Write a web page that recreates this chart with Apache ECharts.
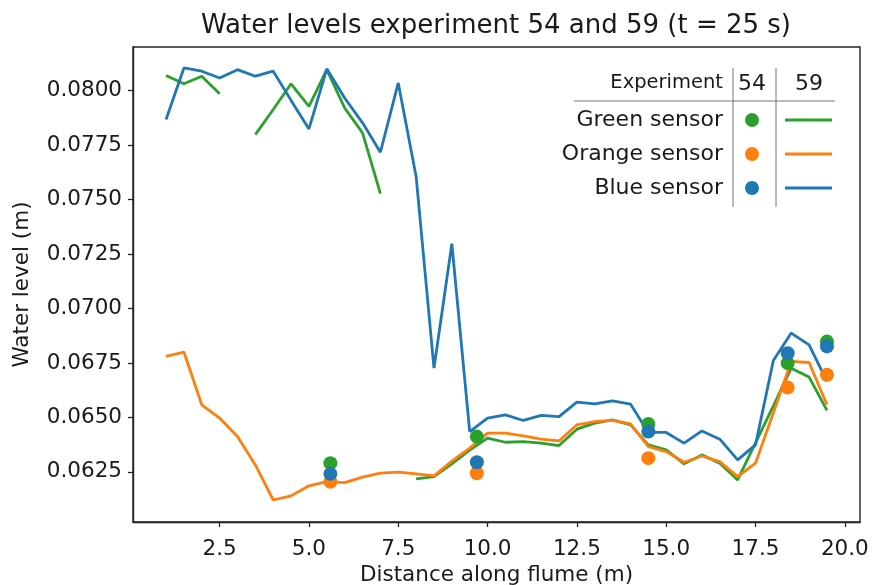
<!DOCTYPE html>
<html>
<head>
<meta charset="utf-8">
<script src="https://cdn.jsdelivr.net/npm/echarts@6/dist/echarts.min.js"></script>
<style>
  html, body { margin: 0; padding: 0; background: #fff; }
  #chart { width: 874px; height: 585px; }
</style>
</head>
<body>
<div id="chart"></div>
<script>
// Sensor positions along the flume (m) for the continuous run (experiment 59)
const distance59 = [1.0, 1.5, 2.0, 2.5, 3.0, 3.5, 4.0, 4.5, 5.0, 5.5, 6.0, 6.5, 7.0, 7.5, 8.0, 8.5, 9.0, 9.5,
  10.0, 10.5, 11.0, 11.5, 12.0, 12.5, 13.0, 13.5, 14.0, 14.5, 15.0, 15.5, 16.0, 16.5, 17.0, 17.5, 18.0, 18.5, 19.0, 19.5];

// Experiment 59 water levels (m); null = no reading
const green59 = [0.08069, 0.08031, 0.08066, 0.07985, null, 0.07798, 0.07913, 0.08031, 0.07928, 0.08096,
  0.07920, 0.07806, 0.07527, null, 0.06218, 0.06228, 0.06287, 0.06350, 0.06405, 0.06386,
  0.06389, 0.06382, 0.06371, 0.06446, 0.06474, 0.06489, 0.06466, 0.06374, 0.06351, 0.06287,
  0.06328, 0.06290, 0.06213, 0.06383, 0.06553, 0.06726, 0.06685, 0.06532];
const orange59 = [0.06780, 0.06800, 0.06558, 0.06497, 0.06412, 0.06282, 0.06121, 0.06140, 0.06186, 0.06205,
  0.06201, 0.06226, 0.06244, 0.06249, 0.06241, 0.06232, 0.06299, 0.06359, 0.06428, 0.06428,
  0.06415, 0.06400, 0.06392, 0.06466, 0.06481, 0.06486, 0.06470, 0.06366, 0.06343, 0.06294,
  0.06323, 0.06297, 0.06228, 0.06290, 0.06521, 0.06757, 0.06752, 0.06558];
const blue59 = [0.07867, 0.08104, 0.08089, 0.08058, 0.08096, 0.08066, 0.08089, 0.07955, 0.07824, 0.08100,
  0.07966, 0.07852, 0.07717, 0.08035, 0.07606, 0.06726, 0.07297, 0.06435, 0.06497, 0.06512,
  0.06486, 0.06509, 0.06504, 0.06570, 0.06562, 0.06576, 0.06561, 0.06431, 0.06431, 0.06382,
  0.06438, 0.06400, 0.06305, 0.06374, 0.06761, 0.06887, 0.06833, 0.06665];

// Experiment 54: point measurements
const distance54 = [5.6, 9.7, 14.5, 18.4, 19.5];
const green54 = [0.0629, 0.06412, 0.0647, 0.06749, 0.06848];
const orange54 = [0.06205, 0.06244, 0.06313, 0.06637, 0.06696];
const blue54 = [0.06241, 0.06294, 0.06435, 0.06795, 0.06826];

// Axis ticks
const xTicks = [2.5, 5.0, 7.5, 10.0, 12.5, 15.0, 17.5, 20.0];
const yTicks = [0.0625, 0.0650, 0.0675, 0.0700, 0.0725, 0.0750, 0.0775, 0.0800];

const COLORS = { green: '#2ca02c', orange: '#ff7f0e', blue: '#1f77b4' };
const FONT = 'DejaVu Sans';
const INK = '#1a1a1a';
const TICK_FONT = 21.5;

const pairs = (xs, ys) => xs.map((x, i) => [x, ys[i]]);

const lineSeries = (name, ys, color, z) => ({
  name, type: 'line', data: pairs(distance59, ys), z,
  showSymbol: false, connectNulls: false, silent: true,
  lineStyle: { color, width: 2.8 }
});
const dotSeries = (name, ys, color, z) => ({
  name, type: 'scatter', data: pairs(distance54, ys), z,
  symbol: 'circle', symbolSize: 14, silent: true,
  itemStyle: { color, opacity: 1 }
});

// Legend table: rows = sensors, columns = experiments
const legRows = [
  { label: 'Green sensor', color: COLORS.green, y: 120 },
  { label: 'Orange sensor', color: COLORS.orange, y: 154 },
  { label: 'Blue sensor', color: COLORS.blue, y: 188 }
];
const legendGraphics = [
  { type: 'text', x: 723, y: 83, style: { text: 'Experiment', font: `19.5px "${FONT}"`, fill: INK, align: 'right', verticalAlign: 'middle' } },
  { type: 'text', x: 752, y: 84, style: { text: '54', font: `22px "${FONT}"`, fill: INK, align: 'center', verticalAlign: 'middle' } },
  { type: 'text', x: 809, y: 84, style: { text: '59', font: `22px "${FONT}"`, fill: INK, align: 'center', verticalAlign: 'middle' } },
  { type: 'line', shape: { x1: 574, y1: 101, x2: 835, y2: 101 }, style: { stroke: '#777', lineWidth: 1 } },
  { type: 'line', shape: { x1: 733, y1: 68, x2: 733, y2: 207 }, style: { stroke: '#777', lineWidth: 1 } },
  { type: 'line', shape: { x1: 776, y1: 68, x2: 776, y2: 207 }, style: { stroke: '#777', lineWidth: 1 } }
];
legRows.forEach(r => {
  legendGraphics.push(
    { type: 'text', x: 723, y: r.y, style: { text: r.label, font: `22px "${FONT}"`, fill: INK, align: 'right', verticalAlign: 'middle' } },
    { type: 'circle', shape: { cx: 752, cy: r.y, r: 7 }, style: { fill: r.color } },
    { type: 'line', shape: { x1: 785, y1: r.y, x2: 832, y2: r.y }, style: { stroke: r.color, lineWidth: 2.8 } }
  );
});

const chart = echarts.init(document.getElementById('chart'), null, { renderer: 'canvas' });
chart.setOption({
  animation: false,
  backgroundColor: '#fff',
  textStyle: { fontFamily: FONT },
  grid: {
    left: 133, right: 14, top: 47, bottom: 63,
    outerBoundsMode: 'none', containLabel: false,
    show: true, borderColor: '#222', borderWidth: 1.4, backgroundColor: 'transparent'
  },
  graphic: [
    { type: 'text', x: 496, y: 26, style: { text: 'Water levels experiment 54 and 59 (t = 25 s)', font: `26px "${FONT}"`, fill: INK, align: 'center', verticalAlign: 'middle' } },
    ...legendGraphics
  ],
  xAxis: {
    type: 'value', min: 0.075, max: 20.425,
    name: 'Distance along flume (m)', nameLocation: 'middle', nameGap: 41,
    nameTextStyle: { fontSize: TICK_FONT, color: INK, fontFamily: FONT },
    axisLine: { show: true, lineStyle: { color: '#222', width: 1.4 } },
    axisTick: { show: true, customValues: xTicks, length: 5, lineStyle: { color: '#222', width: 1.3 } },
    axisLabel: { customValues: xTicks, formatter: v => v.toFixed(1), fontSize: TICK_FONT, color: INK, margin: 16, fontFamily: FONT },
    splitLine: { show: false }
  },
  yAxis: {
    type: 'value', min: 0.0602, max: 0.0820,
    name: 'Water level (m)', nameLocation: 'middle', nameGap: 100, nameRotate: 90,
    nameTextStyle: { fontSize: TICK_FONT, color: INK, fontFamily: FONT },
    axisLine: { show: true, lineStyle: { color: '#222', width: 1.4 } },
    axisTick: { show: true, customValues: yTicks, length: 5, lineStyle: { color: '#222', width: 1.3 } },
    axisLabel: { customValues: yTicks, formatter: v => v.toFixed(4), fontSize: TICK_FONT, color: INK, margin: 11, fontFamily: FONT },
    splitLine: { show: false }
  },
  series: [
    lineSeries('Green sensor 59', green59, COLORS.green, 2),
    lineSeries('Orange sensor 59', orange59, COLORS.orange, 3),
    lineSeries('Blue sensor 59', blue59, COLORS.blue, 4),
    dotSeries('Green sensor 54', green54, COLORS.green, 5),
    dotSeries('Orange sensor 54', orange54, COLORS.orange, 6),
    dotSeries('Blue sensor 54', blue54, COLORS.blue, 7)
  ]
});
</script>
</body>
</html>
